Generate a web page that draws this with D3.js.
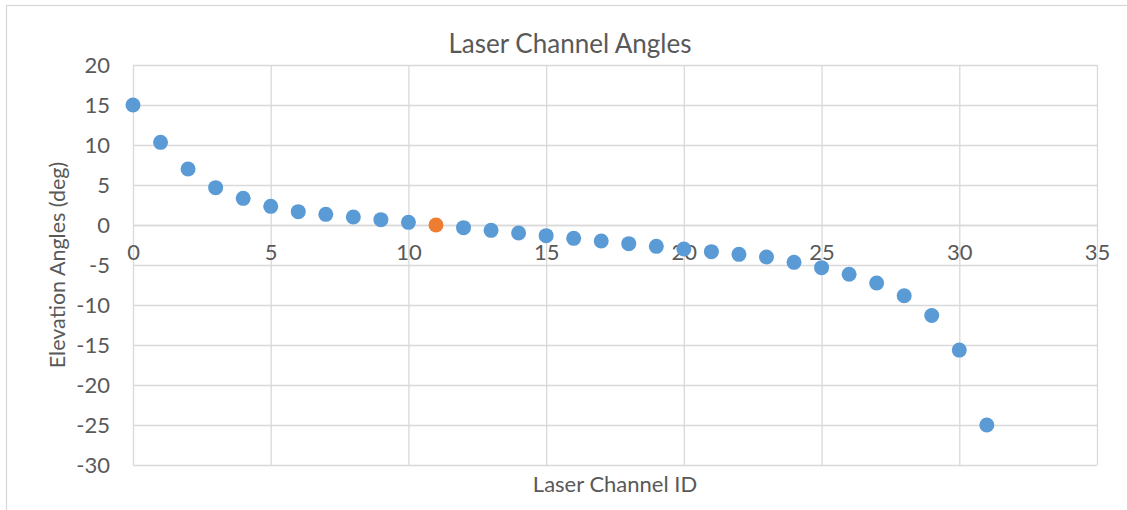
<!DOCTYPE html>
<html>
<head>
<meta charset="utf-8">
<script src="https://cdn.jsdelivr.net/npm/d3@7"></script>
<style>
  html, body { margin: 0; padding: 0; background: #fff; }
  svg { display: block; font-family: Lato, "Open Sans", sans-serif; }
</style>
</head>
<body>
<svg id="chart" width="1127" height="510"></svg>
<script>
// Elevation angle of each laser channel, sorted from top to bottom beam
const channels = d3.range(0, 32);
const elevation = [15, 10.333, 7, 4.667, 3.333, 2.333, 1.667, 1.333, 1, 0.667, 0.333, 0,
  -0.333, -0.667, -1, -1.333, -1.667, -2, -2.333, -2.667, -3, -3.333, -3.667, -4,
  -4.667, -5.333, -6.148, -7.254, -8.843, -11.31, -15.639, -25];
const highlightChannel = 11;
const xTicks = [0, 5, 10, 15, 20, 25, 30, 35];
const yTicks = [-30, -25, -20, -15, -10, -5, 0, 5, 10, 15, 20];

const svg = d3.select("#chart");
const W = 1127, H = 510;
const plot = { left: 133, right: 1097, top: 65, bottom: 465 };
const gridColor = "#d9d9d9";
const textColor = "#595959";
const fontFamily = "Lato, 'Open Sans', sans-serif";
const plain = d => String(d); // hyphen-minus for negatives

// Outer chart frame
svg.append("rect")
  .attr("x", 6.5).attr("y", 5.5)
  .attr("width", W + 20).attr("height", H + 20)
  .attr("fill", "#fff").attr("stroke", gridColor).attr("stroke-width", 1.3);

const x = d3.scaleLinear().domain([0, 35]).range([plot.left, plot.right]);
const y = d3.scaleLinear().domain([-30, 20]).range([plot.bottom, plot.top]);

// Horizontal gridlines with value labels
const yAxis = svg.append("g")
  .attr("transform", `translate(${plot.left},0)`)
  .call(d3.axisLeft(y).tickValues(yTicks).tickSize(-(plot.right - plot.left)).tickPadding(23).tickFormat(plain));
yAxis.select(".domain").remove();
yAxis.selectAll(".tick line").attr("stroke", gridColor).attr("stroke-width", 1.3);
yAxis.selectAll(".tick text").attr("fill", textColor).attr("font-size", 22)
  .attr("font-family", fontFamily);

// Vertical gridlines
const xGrid = svg.append("g")
  .attr("transform", `translate(0,${plot.bottom})`)
  .call(d3.axisBottom(x).tickValues(xTicks).tickSize(-(plot.bottom - plot.top)).tickFormat(""));
xGrid.select(".domain").remove();
xGrid.selectAll(".tick line").attr("stroke", gridColor).attr("stroke-width", 1.3);

// Horizontal axis at zero, labels sit just below it
const xAxis = svg.append("g")
  .attr("transform", `translate(0,${y(0)})`)
  .call(d3.axisBottom(x).tickValues(xTicks).tickSize(0).tickPadding(19).tickFormat(plain));
xAxis.select(".domain").attr("stroke", gridColor).attr("stroke-width", 1.5);
xAxis.selectAll(".tick text").attr("fill", textColor).attr("font-size", 22)
  .attr("font-family", fontFamily);

// Data points
svg.append("g").selectAll("circle")
  .data(channels)
  .join("circle")
  .attr("cx", d => x(d))
  .attr("cy", d => y(elevation[d]))
  .attr("r", 7.5)
  .attr("fill", d => d === highlightChannel ? "#ed7d31" : "#5b9bd5");

// Title, centred over the whole chart frame
svg.append("text")
  .attr("x", 570).attr("y", 53)
  .attr("text-anchor", "middle").attr("fill", textColor).attr("font-size", 26)
  .text("Laser Channel Angles");

svg.append("text")
  .attr("x", (plot.left + plot.right) / 2).attr("y", 492)
  .attr("text-anchor", "middle").attr("fill", textColor).attr("font-size", 22)
  .text("Laser Channel ID");

svg.append("text")
  .attr("transform", `translate(65,${(plot.top + plot.bottom) / 2}) rotate(-90)`)
  .attr("text-anchor", "middle").attr("fill", textColor).attr("font-size", 21.5)
  .text("Elevation Angles (deg)");
</script>
</body>
</html>
